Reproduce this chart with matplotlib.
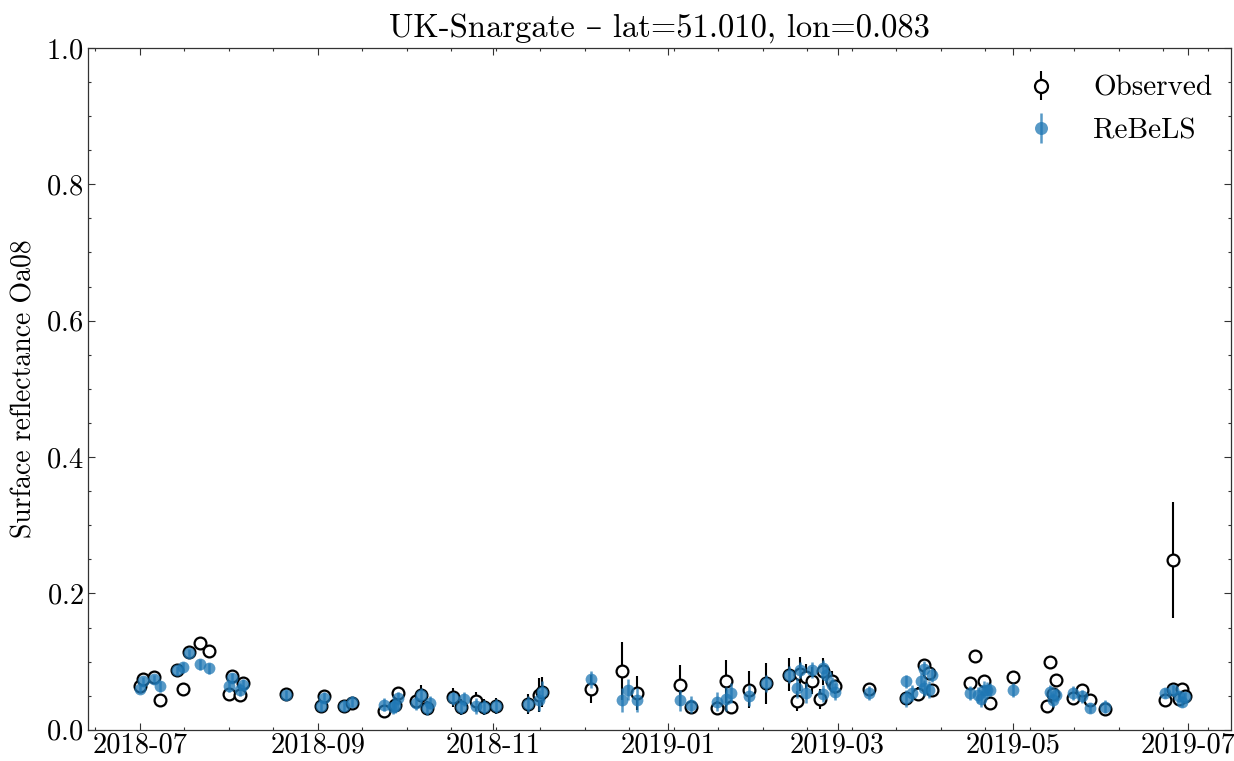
import numpy as np
import pandas as pd
import matplotlib
matplotlib.use("Agg")
import matplotlib.pyplot as plt
import matplotlib.dates as mdates
from matplotlib.ticker import AutoMinorLocator, MultipleLocator

# observed surface reflectance (date, value, 1-sigma)
obs_dates = [
    "2018-07-01", "2018-07-02", "2018-07-06", "2018-07-08", "2018-07-14", "2018-07-16",
    "2018-07-18", "2018-07-22", "2018-07-25", "2018-08-01", "2018-08-02", "2018-08-05",
    "2018-08-06", "2018-08-21", "2018-09-02", "2018-09-03", "2018-09-10", "2018-09-13",
    "2018-09-24", "2018-09-28", "2018-09-29", "2018-10-05", "2018-10-07", "2018-10-09",
    "2018-10-18", "2018-10-21", "2018-10-26", "2018-10-29", "2018-11-02", "2018-11-13",
    "2018-11-17", "2018-11-18", "2018-12-05", "2018-12-16", "2018-12-21", "2019-01-05",
    "2019-01-09", "2019-01-18", "2019-01-21", "2019-01-23", "2019-01-29", "2019-02-04",
    "2019-02-12", "2019-02-15", "2019-02-16", "2019-02-18", "2019-02-20", "2019-02-24",
    "2019-02-23", "2019-02-27", "2019-02-28", "2019-03-12", "2019-03-25", "2019-03-29",
    "2019-03-31", "2019-04-02", "2019-04-03", "2019-04-16", "2019-04-18", "2019-04-21",
    "2019-04-23", "2019-05-01", "2019-05-14", "2019-05-13", "2019-05-15", "2019-05-16",
    "2019-05-22", "2019-05-25", "2019-05-28", "2019-06-02", "2019-06-23", "2019-06-26",
    "2019-06-26", "2019-06-28", "2019-06-29", "2019-06-30",
]
obs_vals = [
    0.064, 0.074, 0.077, 0.043, 0.088, 0.060,
    0.114, 0.127, 0.115, 0.053, 0.079, 0.051,
    0.069, 0.053, 0.035, 0.050, 0.035, 0.040,
    0.027, 0.036, 0.054, 0.042, 0.051, 0.032,
    0.048, 0.033, 0.042, 0.033, 0.035, 0.038,
    0.051, 0.055, 0.060, 0.086, 0.054, 0.065,
    0.033, 0.032, 0.071, 0.033, 0.059, 0.068,
    0.081, 0.042, 0.082, 0.078, 0.072, 0.086,
    0.045, 0.071, 0.064, 0.060, 0.046, 0.053,
    0.095, 0.083, 0.058, 0.069, 0.108, 0.072,
    0.039, 0.077, 0.099, 0.035, 0.052, 0.073,
    0.046, 0.058, 0.044, 0.030, 0.043, 0.249,
    0.060, 0.045, 0.060, 0.049,
]
obs_errs = [
    0.006, 0.006, 0.006, 0.005, 0.008, 0.005,
    0.006, 0.008, 0.006, 0.006, 0.008, 0.006,
    0.006, 0.006, 0.006, 0.008, 0.006, 0.006,
    0.007, 0.006, 0.008, 0.008, 0.015, 0.010,
    0.014, 0.012, 0.014, 0.012, 0.012, 0.015,
    0.025, 0.022, 0.020, 0.043, 0.025, 0.030,
    0.010, 0.010, 0.032, 0.010, 0.027, 0.030,
    0.024, 0.015, 0.025, 0.018, 0.020, 0.020,
    0.015, 0.015, 0.012, 0.008, 0.008, 0.010,
    0.008, 0.008, 0.008, 0.008, 0.006, 0.008,
    0.008, 0.006, 0.006, 0.006, 0.006, 0.006,
    0.006, 0.006, 0.006, 0.006, 0.006, 0.085,
    0.006, 0.006, 0.006, 0.006,
]

# ReBeLS retrieval (date, value, 1-sigma)
reb_dates = [
    "2018-07-01", "2018-07-02", "2018-07-06", "2018-07-08", "2018-07-14", "2018-07-16",
    "2018-07-18", "2018-07-22", "2018-07-25", "2018-08-01", "2018-08-02", "2018-08-05",
    "2018-08-06", "2018-08-21", "2018-09-02", "2018-09-03", "2018-09-10", "2018-09-13",
    "2018-09-24", "2018-09-27", "2018-09-28", "2018-09-29", "2018-10-05", "2018-10-07",
    "2018-10-09", "2018-10-10", "2018-10-18", "2018-10-21", "2018-10-22", "2018-10-26",
    "2018-10-29", "2018-11-02", "2018-11-13", "2018-11-17", "2018-11-18", "2018-12-05",
    "2018-12-16", "2018-12-18", "2018-12-21", "2019-01-05", "2019-01-09", "2019-01-18",
    "2019-01-21", "2019-01-23", "2019-01-29", "2019-02-04", "2019-02-12", "2019-02-15",
    "2019-02-16", "2019-02-18", "2019-02-20", "2019-02-24", "2019-02-24", "2019-02-25",
    "2019-02-27", "2019-02-28", "2019-03-12", "2019-03-25", "2019-03-25", "2019-03-27",
    "2019-03-30", "2019-03-31", "2019-03-31", "2019-04-02", "2019-04-03", "2019-04-16",
    "2019-04-19", "2019-04-20", "2019-04-21", "2019-04-22", "2019-04-23", "2019-05-01",
    "2019-05-14", "2019-05-15", "2019-05-16", "2019-05-22", "2019-05-25", "2019-05-28",
    "2019-06-02", "2019-06-23", "2019-06-26", "2019-06-28", "2019-06-29", "2019-06-30",
]
reb_vals = [
    0.060, 0.072, 0.074, 0.064, 0.087, 0.092,
    0.113, 0.096, 0.090, 0.064, 0.076, 0.059,
    0.066, 0.051, 0.035, 0.047, 0.035, 0.041,
    0.037, 0.033, 0.035, 0.046, 0.039, 0.051,
    0.032, 0.040, 0.046, 0.033, 0.045, 0.035,
    0.033, 0.035, 0.038, 0.043, 0.056, 0.074,
    0.044, 0.059, 0.044, 0.043, 0.037, 0.0415,
    0.045, 0.054, 0.050, 0.068, 0.081, 0.061,
    0.088, 0.054, 0.088, 0.090, 0.053, 0.081,
    0.066, 0.056, 0.054, 0.071, 0.046, 0.054,
    0.071, 0.089, 0.061, 0.059, 0.080, 0.054,
    0.051, 0.045, 0.059, 0.058, 0.059, 0.058,
    0.056, 0.044, 0.051, 0.054, 0.049, 0.032,
    0.034, 0.054, 0.058, 0.049, 0.0415, 0.048,
]
reb_errs = [
    0.006, 0.006, 0.006, 0.008, 0.007, 0.008,
    0.006, 0.008, 0.008, 0.008, 0.008, 0.010,
    0.008, 0.008, 0.008, 0.008, 0.008, 0.008,
    0.010, 0.010, 0.010, 0.010, 0.010, 0.010,
    0.010, 0.010, 0.010, 0.010, 0.010, 0.012,
    0.010, 0.010, 0.012, 0.015, 0.015, 0.012,
    0.018, 0.015, 0.018, 0.015, 0.012, 0.014,
    0.018, 0.015, 0.015, 0.012, 0.012, 0.015,
    0.012, 0.015, 0.012, 0.012, 0.012, 0.012,
    0.012, 0.012, 0.010, 0.010, 0.012, 0.012,
    0.012, 0.012, 0.012, 0.012, 0.010, 0.010,
    0.012, 0.012, 0.012, 0.012, 0.010, 0.010,
    0.010, 0.010, 0.010, 0.010, 0.010, 0.008,
    0.010, 0.008, 0.008, 0.008, 0.008, 0.008,
]

title = "UK-Snargate \u2013 lat=51.010, lon=0.083"
ylabel = "Surface reflectance Oa08"
x_range = ("2018-06-13", "2019-07-16")

plt.rcParams["font.family"] = ["cmr10", "DejaVu Serif"]
plt.rcParams["mathtext.fontset"] = "cm"
plt.rcParams["axes.unicode_minus"] = False
plt.rcParams["axes.formatter.use_mathtext"] = True

blue = "#1f77b4"

fig = plt.figure(figsize=(12.34, 7.61), dpi=100)
ax = fig.add_axes([0.0715, 0.041, 0.926, 0.896])

ax.errorbar(pd.to_datetime(obs_dates), obs_vals, yerr=obs_errs, fmt="o",
            mfc="white", mec="black", mew=1.6, ms=8.5, ecolor="black",
            elinewidth=1.5, capsize=0, label="Observed", zorder=2)
ax.errorbar(pd.to_datetime(reb_dates), reb_vals, yerr=reb_errs, fmt="o",
            color=blue, ms=8.5, mew=0, elinewidth=1.8, capsize=0, alpha=0.75,
            label="ReBeLS", zorder=3)

ax.set_ylim(0, 1)
ax.set_xlim(pd.to_datetime(x_range[0]), pd.to_datetime(x_range[1]))
ax.yaxis.set_major_locator(MultipleLocator(0.2))
ax.yaxis.set_minor_locator(AutoMinorLocator(4))
ax.xaxis.set_major_locator(mdates.MonthLocator(bymonth=[1, 3, 5, 7, 9, 11]))
ax.xaxis.set_major_formatter(mdates.DateFormatter("%Y-%m"))
ax.xaxis.set_minor_locator(AutoMinorLocator(4))

ax.tick_params(which="both", direction="in", top=True, right=True,
               labelsize=20.5, width=0.8, color="#333333")
ax.tick_params(which="major", length=5)
ax.tick_params(which="minor", length=2.5)
ax.tick_params(axis="x", pad=2)
for s in ax.spines.values():
    s.set_linewidth(0.9)
    s.set_color("#333333")

ax.set_ylabel(ylabel, fontsize=20, labelpad=6)
ax.set_title(title, fontsize=23.5, pad=8)
ax.legend(loc="upper right", bbox_to_anchor=(0.994, 0.977), frameon=False,
          fontsize=21, handletextpad=0.8, borderaxespad=0, labelspacing=0.55,
          markerscale=1.1)

fig.savefig("out.png", dpi=100)
